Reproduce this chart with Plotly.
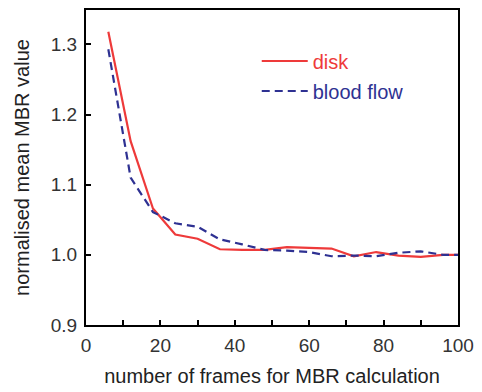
import plotly.graph_objects as go

frames = [6, 12, 18, 24, 30, 36, 42, 48, 54, 60, 66, 72, 78, 84, 90, 96, 100]
disk = [1.318, 1.162, 1.066, 1.029, 1.023, 1.008, 1.007, 1.007, 1.011, 1.010,
        1.009, 0.998, 1.004, 0.999, 0.997, 1.000, 1.000]
blood_flow = [1.293, 1.110, 1.061, 1.045, 1.040, 1.022, 1.015, 1.007, 1.006, 1.004,
              0.998, 0.999, 0.998, 1.003, 1.005, 1.000, 1.000]

x_tickvals = [0, 10, 20, 30, 40, 50, 60, 70, 80, 90, 100]
x_ticktext = ["0", "", "20", "", "40", "", "60", "", "80", "", "100"]
y_tickvals = [0.9, 1.0, 1.1, 1.2, 1.3]
y_ticktext = ["0.9", "1.0", "1.1", "1.2", "1.3"]

RED = "#ee3a3a"
BLUE = "#2e3192"
FONT = "Liberation Sans, Arial, sans-serif"

fig = go.Figure()
fig.add_trace(go.Scatter(
    x=frames, y=disk, mode="lines",
    name="<span style='color:%s'>disk</span>" % RED,
    line=dict(color=RED, width=2.2), legendgroup="a"))
fig.add_trace(go.Scatter(
    x=frames, y=blood_flow, mode="lines",
    name="<span style='color:%s'>blood flow</span>" % BLUE,
    line=dict(color=BLUE, width=2.2, dash="8px,5px"), legendgroup="b"))

axis_common = dict(
    showline=True, linecolor="black", linewidth=2, mirror=True,
    ticks="inside", ticklen=5, tickwidth=1.5, tickcolor="black",
    showgrid=False, zeroline=False,
    tickfont=dict(family=FONT, size=19, color="#333333"),
)

fig.update_layout(
    width=482, height=392,
    margin=dict(l=86, r=23, t=8, b=63),
    paper_bgcolor="white", plot_bgcolor="white",
    font=dict(family=FONT, size=19, color="#333333"),
    showlegend=True,
    legend=dict(
        x=0.459, y=0.9, xanchor="left", yanchor="top",
        bgcolor="rgba(0,0,0,0)", borderwidth=0,
        font=dict(family=FONT, size=20),
        traceorder="grouped", tracegroupgap=1, itemwidth=46,
    ),
    xaxis=dict(
        range=[0, 100], tickvals=x_tickvals, ticktext=x_ticktext,
        ticklabelstandoff=2,
        title=dict(text="number of frames for MBR calculation", standoff=14,
                   font=dict(family=FONT, size=20, color="#222222")),
        **axis_common),
    yaxis=dict(
        range=[0.9, 1.349], tickvals=y_tickvals, ticktext=y_ticktext,
        ticklabelstandoff=3,
        title=dict(text="normalised mean MBR value", standoff=16,
                   font=dict(family=FONT, size=20, color="#222222")),
        **axis_common),
)

fig.write_html("out.html")
